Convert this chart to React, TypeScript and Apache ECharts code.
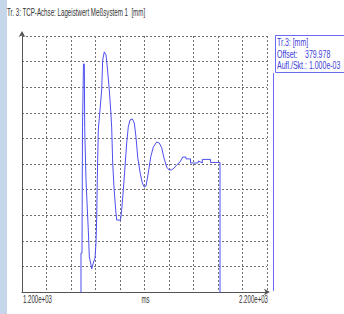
import React, { useEffect, useRef } from "react";
import * as echarts from "echarts";

const titleText = "Tr. 3: TCP-Achse: Lageistwert Meßsystem 1  [mm]";
const xAxisName = "ms";
const xMin = 1200;
const xMax = 2200;
const xInterval = 100;
const yMin = 0;
const yMax = 10;
const yInterval = 1;
const xTickLabels = ["1.200e+03", "2.200e+03"];
const legendLines = ["Tr.3: [mm]", "Offset:", "Aufl./Skt.: 1.000e-03"];
const offsetValue = "379.978";

// time in ms
const timeMs = [
  1440.8, 1440.8, 1444.9, 1446.9, 1449.0, 1451.0, 1454.3, 1455.9, 1461.2, 1470.6,
  1474.7, 1480.4, 1484.5, 1491.0, 1498.0, 1502.0, 1504.9, 1507.3, 1511.4, 1525.3,
  1529.4, 1535.9, 1542.9, 1548.2, 1556.3, 1562.0, 1566.1, 1570.2, 1575.5, 1582.4,
  1586.5, 1602.0, 1606.9, 1613.5, 1620.4, 1627.3, 1633.9, 1640.8, 1650.2, 1658.4,
  1665.3, 1672.2, 1681.6, 1691.0, 1699.2, 1706.1, 1715.5, 1725.3, 1735.9, 1749.8,
  1760.4, 1770.2, 1779.6, 1790.6, 1800.0, 1811.0, 1820.4, 1831.4, 1844.9, 1855.9,
  1869.4, 1869.4, 1887.8, 1887.8, 1918.4, 1920.4, 1935.9, 1935.9, 1969.4, 1969.4,
  2008.2, 2008.2,
];
// position in scale divisions (1 div = 1.000e-03 mm)
const position = [
  -0.3, 1.52, 1.52, 6.41, 6.41, 8.91, 8.91, 6.41, 4.38, 2.42,
  1.37, 1.13, 0.9, 1.13, 1.33, 1.91, 2.93, 4.38, 6.33, 7.89,
  9.06, 9.38, 9.26, 8.79, 7.89, 7.11, 6.41, 5.04, 4.1, 3.2,
  2.81, 2.81, 3.2, 3.98, 4.88, 5.82, 6.45, 6.72, 6.76, 6.6,
  6.05, 5.27, 4.69, 4.26, 4.1, 4.14, 4.65, 5.27, 5.66, 5.86,
  5.82, 5.63, 5.23, 4.88, 4.77, 4.77, 4.84, 4.96, 5.08, 5.27,
  5.27, 5.2, 5.2, 5.04, 5.04, 5.12, 5.04, 5.18, 5.18, 5.06,
  5.06, -0.3,
];

const FONT = "'Liberation Sans', Arial, sans-serif";
const TEXT_COLOR = "#333";
const LEGEND_COLOR = "#4040d8";

export default function App() {
  const ref = useRef<HTMLDivElement>(null);
  useEffect(() => {
    if (!ref.current) return;
    const chart = echarts.init(ref.current, undefined, { renderer: "svg" });
    const data = timeMs.map((t, i) => [t, position[i]]);
    const gridLine = { show: true, lineStyle: { color: "#707070", type: [2, 2], width: 1 } };
    chart.setOption({
      animation: false,
      backgroundColor: "#ffffff",
      grid: { left: 22, right: 77, top: 36, bottom: 22, containLabel: false },
      xAxis: {
        type: "value",
        min: xMin,
        max: xMax,
        interval: xInterval,
        axisLine: {
          show: true,
          lineStyle: { color: "#555", width: 1 },
          symbol: ["none", "arrow"],
          symbolSize: [5, 6],
          symbolOffset: [0, 3],
        },
        axisTick: { show: false },
        axisLabel: { show: false },
        splitLine: gridLine,
      },
      yAxis: {
        type: "value",
        min: yMin,
        max: yMax,
        interval: yInterval,
        axisLine: {
          show: true,
          lineStyle: { color: "#555", width: 1 },
          symbol: ["none", "arrow"],
          symbolSize: [5, 6],
          symbolOffset: [0, 5],
        },
        axisTick: { show: false },
        axisLabel: { show: false },
        splitLine: gridLine,
      },
      series: [
        {
          type: "line",
          data,
          showSymbol: false,
          clip: true,
          lineStyle: { color: "#4f4ff0", width: 1 },
        },
      ],
    });

    const xL = chart.convertToPixel({ xAxisIndex: 0 }, xMin) as number;
    const xR = chart.convertToPixel({ xAxisIndex: 0 }, xMax) as number;
    const yB = chart.convertToPixel({ yAxisIndex: 0 }, yMin) as number;
    const labelY = yB + 8;
    const axisText = (text: string, x: number, align: string) => ({
      type: "text",
      x,
      y: labelY,
      scaleX: 0.61,
      style: { text, fontFamily: FONT, fontSize: 10, fill: TEXT_COLOR, align, verticalAlign: "middle" },
    });
    const legendText = (text: string, x: number, y: number) => ({
      type: "text",
      x,
      y,
      scaleX: 0.7,
      style: { text, fontFamily: FONT, fontSize: 10, fill: LEGEND_COLOR, verticalAlign: "middle" },
    });

    chart.setOption({
      graphic: [
        { type: "rect", shape: { x: 0, y: 0, width: 7, height: 314 }, style: { fill: "#c6d6eb" }, silent: true },
        {
          type: "text",
          x: 7,
          y: 12,
          scaleX: 0.62,
          style: { text: titleText, fontFamily: FONT, fontSize: 10, fill: TEXT_COLOR, verticalAlign: "middle" },
        },
        axisText(xTickLabels[0], xL + 1, "left"),
        axisText(xAxisName, (xL + xR) / 2 + 1, "center"),
        axisText(xTickLabels[1], xR + 1, "right"),
        {
          type: "rect",
          shape: { x: 275.5, y: 35.5, width: 80, height: 37 },
          style: { fill: "#ffffff", stroke: "#6a6af2", lineWidth: 1 },
        },
        {
          type: "line",
          shape: { x1: 273.5, y1: 73, x2: 273.5, y2: yB - 1 },
          style: { stroke: "#6a6af2", lineWidth: 1 },
        },
        legendText(legendLines[0], 277, 43),
        legendText(legendLines[1], 277, 55),
        legendText(offsetValue, 305, 55),
        legendText(legendLines[2], 277, 66),
      ],
    });
    return () => chart.dispose();
  }, []);
  return (
    <div
      ref={ref}
      style={{ position: "absolute", left: 0, top: 0, width: 344, height: 314, background: "#fff" }}
    />
  );
}
